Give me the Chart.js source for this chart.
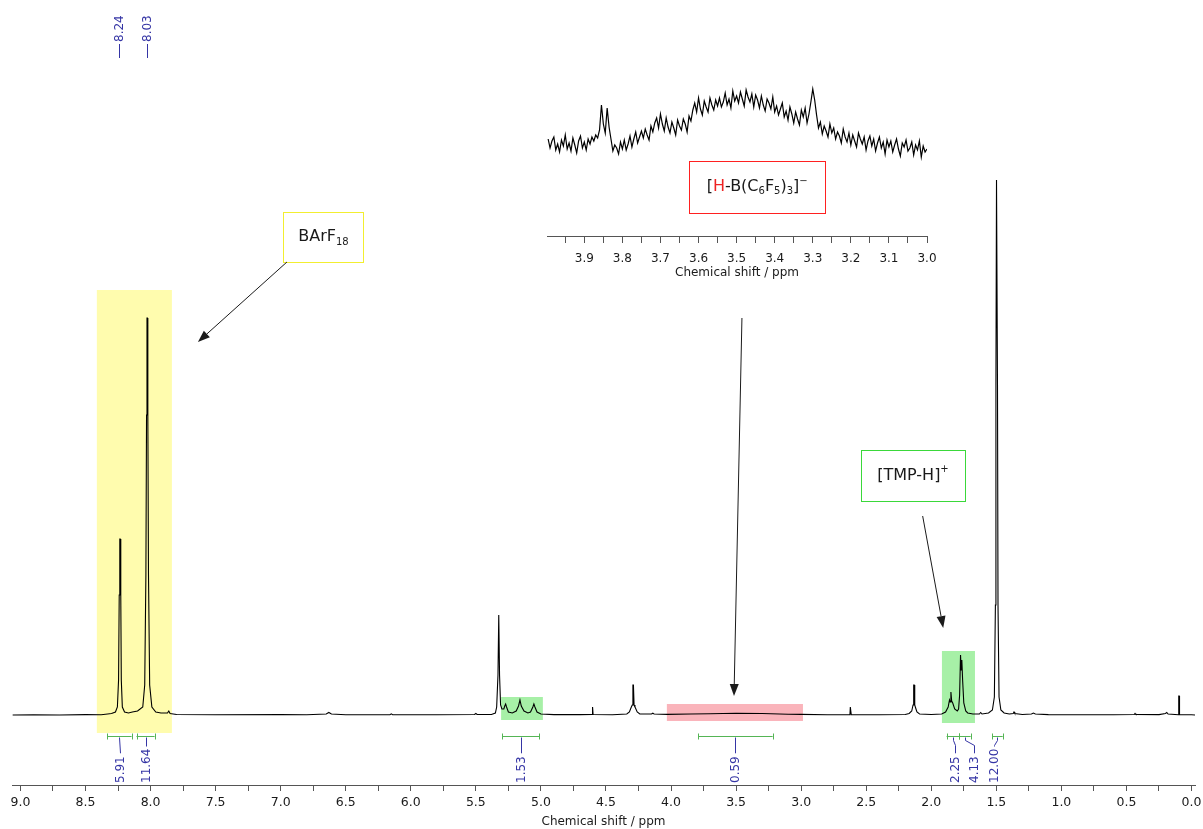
<!DOCTYPE html>
<html>
<head>
<meta charset="utf-8">
<title>1H NMR spectrum</title>
<script src="https://cdn.jsdelivr.net/npm/chart.js@4.4.1/dist/chart.umd.min.js"></script>
<style>
  html, body { margin: 0; padding: 0; background: #fff; }
  #wrap { position: relative; width: 1203px; height: 829px; overflow: hidden; }
  #main { position: absolute; left: 0; top: 0; }
  #inset { position: absolute; left: 540px; top: 80px; }
</style>
</head>
<body>
<div id="wrap">
  <canvas id="main" width="1203" height="829"></canvas>
  <canvas id="inset" width="400" height="200"></canvas>
</div>
<script>
// ---------- data ----------
// main trace: [shift in ppm, intensity]
const spectrum = [
  [9.06,0],[8.9,0.3],[8.7,0],[8.5,0.4],[8.38,0.3],[8.33,1],[8.30,1.5],[8.27,3],[8.255,8],
  [8.246,35],[8.241,120],[8.2365,176],[8.2335,176],[8.229,120],[8.225,35],[8.217,8],[8.20,3],[8.17,2],
  [8.14,3],[8.10,4],[8.06,8],[8.045,30],[8.036,140],[8.031,300],[8.0275,397],[8.0245,397],[8.021,300],
  [8.016,140],[8.007,30],[7.99,8],[7.96,3],[7.92,2],[7.87,2],[7.86,4],[7.85,1.5],[7.8,0.5],
  [7.5,0.2],[7.0,0.4],[6.8,0.2],[6.65,1],[6.63,2.5],[6.61,1],[6.5,0.3],[6.16,0.3],[6.15,1.2],
  [6.14,0.3],[5.8,0.3],[5.51,0.5],[5.50,1.5],[5.49,0.5],[5.38,0.5],[5.35,2],[5.34,8],
  [5.33,40],[5.324,100],[5.318,40],[5.31,10],[5.30,6],[5.285,6],[5.278,9],[5.271,11],
  [5.264,8],[5.25,3],[5.22,2],[5.19,4],[5.172,9],[5.161,15],[5.151,9],[5.13,4],[5.10,2],
  [5.08,3],[5.062,8],[5.054,11],[5.046,8],[5.03,3],[5.0,1],[4.9,0.4],[4.7,0.4],[4.607,0.5],
  [4.605,8],[4.601,8],[4.599,0.5],[4.45,0.3],[4.34,1],[4.32,3],[4.305,8],[4.298,10],
  [4.293,30],[4.289,30],[4.284,10],[4.277,8],[4.26,3],[4.24,1],[4.15,1],[4.14,1.8],[4.13,1],
  [4.03,0.6],[3.85,1],[3.7,1.2],[3.5,1.8],[3.3,1.5],[3.1,0.8],[3.0,0.6],[2.8,0.3],
  [2.625,0.4],[2.622,8],[2.618,8],[2.615,0.4],[2.4,0.3],[2.2,0.5],[2.17,1.5],[2.15,4],
  [2.140,10],[2.135,30],[2.131,30],[2.127,10],[2.12,7],[2.11,3],[2.09,1],[2.0,0.5],
  [1.92,1],[1.89,3],[1.87,8],[1.86,15],[1.855,13],[1.849,23],[1.843,14],[1.835,12],
  [1.82,6],[1.80,4],[1.79,6],[1.782,20],[1.775,60],[1.770,45],[1.765,55],[1.759,35],
  [1.75,12],[1.735,4],[1.72,2],[1.68,1],[1.63,1],[1.62,2.5],[1.61,1],[1.56,2],[1.53,5],
  [1.515,18],[1.507,110],[1.503,330],[1.4985,535],[1.4955,535],[1.491,330],[1.487,110],[1.479,18],
  [1.465,5],[1.44,2],[1.40,1],[1.37,1.5],[1.364,3],[1.358,1.5],[1.3,0.5],[1.23,1],
  [1.215,2],[1.20,1],[1.1,0.4],[0.8,0.3],[0.6,0.3],[0.44,0.5],[0.434,1.5],[0.428,0.5],
  [0.25,0.4],[0.2,1.5],[0.19,2.5],[0.18,1],[0.1,0.3],[0.098,19],[0.094,19],[0.092,0.3],
  [0.0,0.2],[-0.03,0]
];

// inset (3.0 - 4.0 ppm, vertically expanded), one value every 0.005 ppm from 3.995 down
const insetStart = 3.995;
const insetStep = 0.005;
const insetIntensity = [
  97,88,95,99,86,92,84,96,90,101,
  87,93,85,98,91,83,95,100,88,94,
  86,97,92,99,95,101,98,106,131,112,
  103,128,109,97,85,91,88,82,94,87,
  96,86,92,100,89,97,104,93,99,105,
  98,107,101,96,110,104,113,118,108,122,
  112,105,118,109,103,114,108,101,116,110,
  106,117,112,104,120,115,126,133,124,138,
  127,121,135,129,124,138,131,126,136,130,
  138,129,134,143,131,137,128,145,135,140,
  133,144,137,130,146,139,134,142,129,141,
  136,128,140,131,125,137,133,127,139,124,
  130,121,127,133,119,125,116,129,122,113,
  124,117,111,126,119,128,113,122,134,147,
  136,121,108,114,102,110,105,99,112,103,
  108,97,104,100,93,107,99,94,103,91,
  101,95,89,103,97,92,99,86,95,100,
  90,97,85,93,99,88,94,82,96,89,
  95,84,91,97,87,80,93,89,96,85,
  88,94,81,91,86,95,79,90,84,87
];

const mainTicks = [0,0.25,0.5,0.75,1,1.25,1.5,1.75,2,2.25,2.5,2.75,3,3.25,3.5,3.75,4,4.25,
  4.5,4.75,5,5.25,5.5,5.75,6,6.25,6.5,6.75,7,7.25,7.5,7.75,8,8.25,8.5,8.75,9];
const insetTicks = [3.0,3.05,3.1,3.15,3.2,3.25,3.3,3.35,3.4,3.45,3.5,3.55,3.6,3.65,3.7,
  3.75,3.8,3.85,3.9,3.95];

// picked peaks shown at the top
const peakLabels = [8.24, 8.03];

// integration regions: from, to, where the value is written, value
const integralFrom  = [8.334, 8.108, 5.297, 3.791, 1.882, 1.785, 1.531];
const integralTo    = [8.146, 7.969, 5.013, 3.219, 1.785, 1.697, 1.451];
const integralAt    = [8.236, 8.038, 5.156, 3.509, 1.818, 1.672, 1.515];
const integralValue = ['5.91', '11.64', '1.53', '0.59', '2.25', '4.13', '12.00'];

// ---------- look ----------
const FONT = 'DejaVu Sans';
const INK = '#1a1a1a';
const BLUE = '#3535a5';
const GREEN = '#55b555';

// shaded regions (ppm range, intensity range)
const highlights = [
  { from: 8.413, to: 7.836, top: 425, bottom: -18, color: 'rgba(255,250,120,0.6)' },
  { from: 5.306, to: 4.985, top: 18, bottom: -5, color: 'rgba(120,232,120,0.65)' },
  { from: 4.032, to: 2.986, top: 11, bottom: -6, color: 'rgba(248,140,150,0.65)' },
  { from: 1.918, to: 1.664, top: 64, bottom: -8, color: 'rgba(120,232,120,0.65)' }
];

// labelled boxes on the main plot and the arrows that point from them
const notes = [
  { x0: 6.979, x1: 6.364, y0: 502.7, y1: 452.7, border: '#f2ee30',
    parts: [{ t: 'BArF' }, { t: '18', sub: true }],
    arrow: [6.952, 453, 7.636, 373] },
  { x0: 2.540, x1: 1.741, y0: 265, y1: 214, border: '#3ad83a',
    parts: [{ t: '[TMP-H]' }, { t: '+', sup: true }],
    arrow: [2.066, 199, 1.908, 87] }
];
// arrow from the hydride label down to its broad signal
const hydrideArrow = [3.455, 397, 3.516, 19];

// hydride label box, placed in the inset's own coordinates
const hydrideNote = { x0: 3.625, x1: 3.267, y0: 75, y1: 23, border: '#ff2020',
  parts: [{ t: '[' }, { t: 'H', color: '#ee2222' }, { t: '-B(C' }, { t: '6', sub: true },
          { t: 'F' }, { t: '5', sub: true }, { t: ')' }, { t: '3', sub: true },
          { t: ']' }, { t: '\u2212', sup: true }] };


// ---------- drawing helpers ----------
function drawRich(ctx, parts, cx, cy, size) {
  const small = Math.round(size * 0.65);
  let total = 0;
  parts.forEach((p) => {
    ctx.font = ((p.sub || p.sup) ? small : size) + 'px "' + FONT + '"';
    total += ctx.measureText(p.t).width;
  });
  let x = cx - total / 2;
  ctx.textAlign = 'left';
  ctx.textBaseline = 'middle';
  parts.forEach((p) => {
    ctx.font = ((p.sub || p.sup) ? small : size) + 'px "' + FONT + '"';
    ctx.fillStyle = p.color || INK;
    let dy = 0;
    if (p.sub) dy = size * 0.3;
    if (p.sup) dy = -size * 0.35;
    ctx.fillText(p.t, x, cy + dy);
    x += ctx.measureText(p.t).width;
  });
}

function drawBox(ctx, xs, ys, n) {
  const a = xs.getPixelForValue(n.x0), b = xs.getPixelForValue(n.x1);
  const t = ys.getPixelForValue(n.y0), u = ys.getPixelForValue(n.y1);
  ctx.strokeStyle = n.border;
  ctx.lineWidth = 1;
  ctx.strokeRect(Math.round(a) + 0.5, Math.round(t) + 0.5, Math.round(b - a), Math.round(u - t));
  drawRich(ctx, n.parts, (a + b) / 2, (t + u) / 2, 16);
}

function drawArrow(ctx, x0, y0, x1, y1) {
  const ang = Math.atan2(y1 - y0, x1 - x0);
  const len = 12, half = 4.5;
  ctx.strokeStyle = INK;
  ctx.fillStyle = INK;
  ctx.lineWidth = 1;
  ctx.beginPath();
  ctx.moveTo(x0, y0);
  ctx.lineTo(x1 - Math.cos(ang) * len, y1 - Math.sin(ang) * len);
  ctx.stroke();
  ctx.beginPath();
  ctx.moveTo(x1, y1);
  ctx.lineTo(x1 - Math.cos(ang) * len - Math.sin(ang) * half, y1 - Math.sin(ang) * len + Math.cos(ang) * half);
  ctx.lineTo(x1 - Math.cos(ang) * len + Math.sin(ang) * half, y1 - Math.sin(ang) * len - Math.cos(ang) * half);
  ctx.closePath();
  ctx.fill();
}

const markup = {
  id: 'markup',
  beforeDatasetsDraw(chart) {
    const ctx = chart.ctx, xs = chart.scales.x, ys = chart.scales.y;
    ctx.save();
    highlights.forEach((h) => {
      const a = xs.getPixelForValue(h.from), b = xs.getPixelForValue(h.to);
      const t = ys.getPixelForValue(h.top), u = ys.getPixelForValue(h.bottom);
      ctx.fillStyle = h.color;
      ctx.fillRect(a, t, b - a, u - t);
    });
    ctx.restore();
  },
  afterDatasetsDraw(chart) {
    const ctx = chart.ctx, xs = chart.scales.x, ys = chart.scales.y;
    ctx.save();

    // boxes + arrows
    notes.forEach((n) => {
      drawBox(ctx, xs, ys, n);
      drawArrow(ctx, xs.getPixelForValue(n.arrow[0]), ys.getPixelForValue(n.arrow[1]),
                     xs.getPixelForValue(n.arrow[2]), ys.getPixelForValue(n.arrow[3]));
    });
    drawArrow(ctx, xs.getPixelForValue(hydrideArrow[0]), ys.getPixelForValue(hydrideArrow[1]),
                   xs.getPixelForValue(hydrideArrow[2]), ys.getPixelForValue(hydrideArrow[3]));

    // peak labels at the top
    ctx.font = '12px "' + FONT + '"';
    ctx.fillStyle = BLUE;
    ctx.strokeStyle = BLUE;
    ctx.lineWidth = 1;
    peakLabels.forEach((p) => {
      const x = Math.round(xs.getPixelForValue(p)) + 0.5;
      const yb = ys.getPixelForValue(657);
      ctx.beginPath();
      ctx.moveTo(x, yb);
      ctx.lineTo(x, yb - 14);
      ctx.stroke();
      ctx.save();
      ctx.translate(x, yb - 16);
      ctx.rotate(-Math.PI / 2);
      ctx.textAlign = 'left';
      ctx.textBaseline = 'middle';
      ctx.fillText(p.toFixed(2), 0, 0);
      ctx.restore();
    });

    // integrals below the trace
    const yBr = Math.round(ys.getPixelForValue(-21)) + 0.5;
    const yText = ys.getPixelForValue(-68);
    integralFrom.forEach((f, i) => {
      const a = xs.getPixelForValue(f), b = xs.getPixelForValue(integralTo[i]);
      ctx.strokeStyle = GREEN;
      ctx.lineWidth = 1;
      ctx.beginPath();
      ctx.moveTo(a, yBr); ctx.lineTo(b, yBr);
      ctx.moveTo(Math.round(a) + 0.5, yBr - 3); ctx.lineTo(Math.round(a) + 0.5, yBr + 3);
      ctx.moveTo(Math.round(b) + 0.5, yBr - 3); ctx.lineTo(Math.round(b) + 0.5, yBr + 3);
      ctx.stroke();

      const mid = (a + b) / 2;
      const lx = Math.round(xs.getPixelForValue(integralAt[i])) + 0.5;
      const w = ctx.measureText(integralValue[i]).width;
      const top = yText - w - 3;
      ctx.strokeStyle = BLUE;
      ctx.beginPath();
      ctx.moveTo(Math.round(mid) + 0.5, yBr + 1);
      if (Math.abs(lx - mid) > 2) {
        ctx.lineTo(Math.round(mid) + 0.5, yBr + 4);
        ctx.lineTo(lx, yBr + 9);
      }
      ctx.lineTo(lx, Math.max(top, yBr + 10));
      ctx.stroke();

      ctx.save();
      ctx.translate(lx, yText);
      ctx.rotate(-Math.PI / 2);
      ctx.fillStyle = BLUE;
      ctx.textAlign = 'left';
      ctx.textBaseline = 'middle';
      ctx.fillText(integralValue[i], 0, 0);
      ctx.restore();
    });

    ctx.restore();
  }
};

const insetMarkup = {
  id: 'insetMarkup',
  afterDatasetsDraw(chart) {
    const ctx = chart.ctx;
    ctx.save();
    drawBox(ctx, chart.scales.x, chart.scales.y, hydrideNote);
    ctx.restore();
  }
};


// ---------- main spectrum ----------
const mainChart = new Chart(document.getElementById('main'), {
  type: 'line',
  data: {
    datasets: [{
      data: spectrum.map((p) => ({ x: p[0], y: p[1] })),
      borderColor: '#000',
      borderWidth: 1.1,
      pointRadius: 0,
      tension: 0
    }]
  },
  options: {
    responsive: false,
    animation: false,
    devicePixelRatio: 1,
    layout: { padding: { left: 12, right: 8, top: 10, bottom: 0 } },
    plugins: { legend: { display: false }, tooltip: { enabled: false } },
    scales: {
      x: {
        type: 'linear',
        reverse: true,
        min: -0.027,
        max: 9.065,
        afterBuildTicks: (axis) => { axis.ticks = mainTicks.map((v) => ({ value: v })); },
        afterFit: (axis) => { axis.height = 44; },
        grid: { drawOnChartArea: false, tickLength: 6, color: '#555' },
        border: { color: '#555' },
        ticks: {
          autoSkip: false,
          maxRotation: 0,
          padding: 4,
          color: INK,
          font: { family: FONT, size: 12.5 },
          callback: (v) => (v % 0.5 === 0 ? v.toFixed(1) : '')
        },
        title: {
          display: true,
          text: 'Chemical shift / ppm',
          color: INK,
          font: { family: FONT, size: 12 },
          padding: 0
        }
      },
      y: { display: false, min: -70, max: 705 }
    }
  },
  plugins: [markup]
});


// ---------- inset: 3.0 - 4.0 ppm expanded ----------
const insetChart = new Chart(document.getElementById('inset'), {
  type: 'line',
  data: {
    datasets: [{
      data: insetIntensity.map((v, i) => ({ x: insetStart - i * insetStep, y: v })),
      borderColor: '#000',
      borderWidth: 1.2,
      pointRadius: 0,
      tension: 0
    }]
  },
  options: {
    responsive: false,
    animation: false,
    devicePixelRatio: 1,
    layout: { padding: { left: 7, right: 13, top: 0, bottom: 0 } },
    plugins: { legend: { display: false }, tooltip: { enabled: false } },
    scales: {
      x: {
        type: 'linear',
        reverse: true,
        min: 3.0,
        max: 3.998,
        afterBuildTicks: (axis) => { axis.ticks = insetTicks.map((v) => ({ value: v })); },
        afterFit: (axis) => { axis.height = 44; },
        grid: { drawOnChartArea: false, tickLength: 7, color: '#555' },
        border: { color: '#555' },
        ticks: {
          autoSkip: false,
          maxRotation: 0,
          padding: 9,
          color: INK,
          font: { family: FONT, size: 12 },
          callback: (v) => (Math.round(v * 100) % 10 === 0 ? v.toFixed(1) : '')
        },
        title: {
          display: true,
          text: 'Chemical shift / ppm',
          color: INK,
          font: { family: FONT, size: 12 },
          padding: 0
        }
      },
      y: { display: false, min: 0, max: 156 }
    }
  },
  plugins: [insetMarkup]
});
</script>
</body>
</html>
